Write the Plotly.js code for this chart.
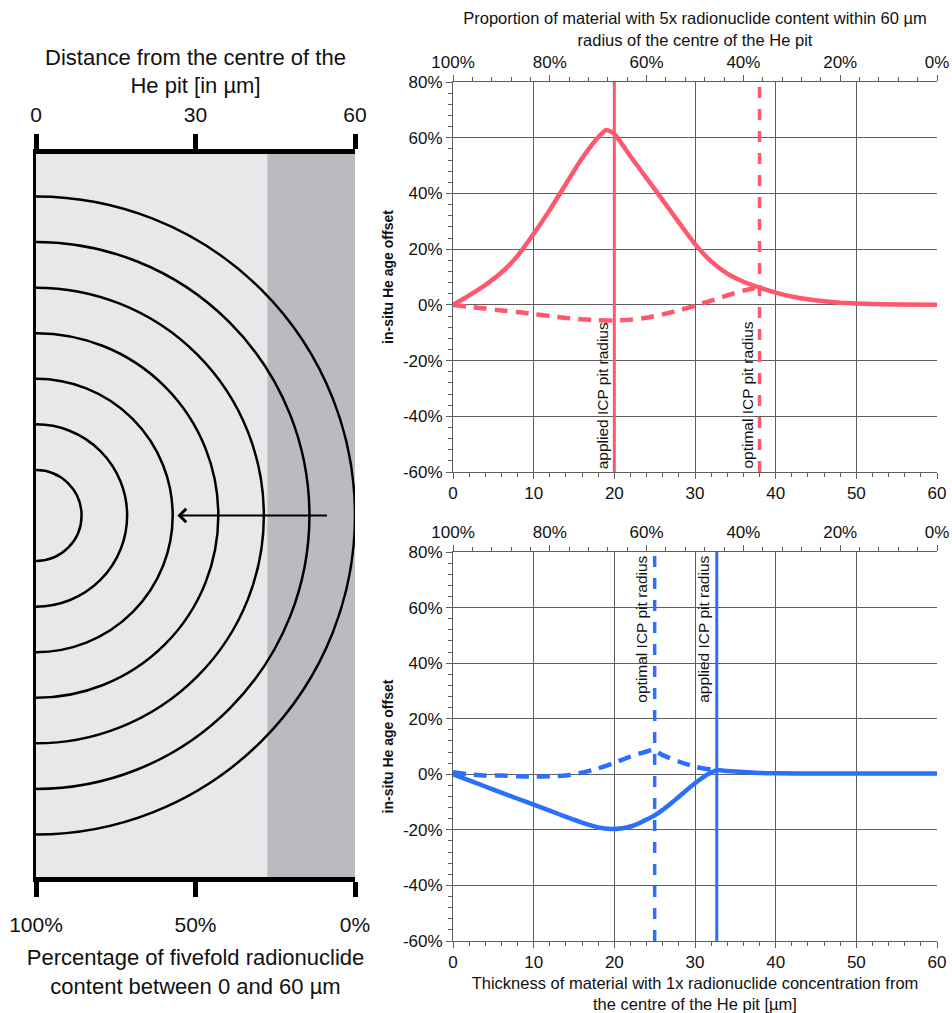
<!DOCTYPE html>
<html>
<head>
<meta charset="utf-8">
<script src="https://cdn.plot.ly/plotly-3.0.1.min.js"></script>
<style>html,body{margin:0;padding:0;background:#fff;}</style>
</head>
<body>
<div id="chart" style="width:952px;height:1013px;"></div>
<script>
// ---------------- data ----------------
// Top chart (5x radionuclide content), pink
const topSolidX = [0,2,4,6,8,10,12,14,16,18,19,20,22,24,26,28,30,32,34,36,38,40,42,44,46,48,50,52,55,60];
const topSolidY = [0,3.4,7.1,11.6,17.6,25.5,34.1,43.4,52.6,60.2,62.8,61.4,53.3,45.5,37.6,29.6,21.8,15.6,11.2,8.3,6.2,4.4,3.0,2.0,1.3,0.8,0.5,0.3,0.15,0.05];
const topDashX = [0,2,4,6,8,10,12,14,16,18,20,22,24,26,28,30,32,34,36,38];
const topDashY = [0,-0.7,-1.3,-2.0,-2.6,-3.3,-4.0,-4.7,-5.2,-5.5,-5.6,-5.3,-4.6,-3.4,-2.0,-0.3,1.5,3.4,5.1,6.4];
const topAppliedRadius = 20;
const topOptimalRadius = 38;

// Bottom chart (1x radionuclide content), blue
const botSolidX = [0,2,4,6,8,10,12,14,16,18,19.5,21,22,23,24,25,26,27,28,29,30,31,32,32.7,34,36,38,40,45,50,55,60];
const botSolidY = [0,-2.2,-4.4,-6.6,-8.8,-10.9,-13.1,-15.3,-17.4,-19.1,-19.7,-19.4,-18.8,-17.7,-16.3,-14.8,-12.8,-10.5,-8.1,-5.6,-3.2,-1.1,0.6,1.5,1.2,0.8,0.5,0.35,0.3,0.3,0.3,0.3];
const botDashX = [0,2,4,6,8,10,12,14,16,18,20,22,24,24.75,26,28,30,32,32.7];
const botDashY = [0.7,0,-0.4,-0.4,-0.7,-0.8,-0.7,-0.4,0.6,2.1,4.1,6.4,8.2,8.8,6.9,4.6,2.7,1.7,1.5];
const botOptimalRadius = 25;
const botAppliedRadius = 32.7;

// axes / ticks
const xRange = [0, 60];
const yRange = [-60, 80];
const yTickVals = [-60,-40,-20,0,20,40,60,80];
const yTickText = ['-60%','-40%','-20%','0%','20%','40%','60%','80%'];
const propRange = [100, 0];

// Left diagram
const ringRadii = [8.57, 17.14, 25.71, 34.29, 42.86, 51.43, 60];
const zoneEdges = [0, 43.5, 60];
const distTickVals = [0, 30, 60];
const distTickText = ['0', '30', '60'];
const pctTickText = ['100%', '50%', '0%'];
const arrowFrom = 55;
const arrowTo = 26.6;

// ---------------- style ----------------
const W = 952, H = 1013;
const FONT = 'Liberation Sans, Arial, Helvetica, sans-serif';
const PINK = '#ff576c';
const BLUE = '#2b6fff';
const GRID = '#5e5e5e';
const TXT = '#111111';
const TICK = 17;
const TITLE = 16.5;

const rightX = [453 / W, 937 / W];
const topY = [1 - 472 / H, 1 - 82 / H];
const botY = [1 - 941 / H, 1 - 552 / H];
const leftX = [36 / W, 355 / W];
const leftY = [1 - 877 / H, 1 - 154 / H];
const leftHalf = ((877 - 154) / 2) / ((355 - 36) / 60);

function xMain(domain, anchor, title) {
  const ax = {
    domain: domain, anchor: anchor, range: xRange, tickmode: 'linear', tick0: 0, dtick: 10,
    showgrid: true, gridcolor: GRID, gridwidth: 1, zeroline: false,
    showline: true, linecolor: GRID, linewidth: 1,
    ticks: 'outside', ticklen: 6, tickcolor: GRID, tickwidth: 1,
    minor: {tickmode: 'linear', dtick: 2, ticks: 'outside', ticklen: 4, tickcolor: GRID, showgrid: false},
    tickfont: {family: FONT, size: TICK, color: TXT}, fixedrange: true
  };
  if (title) ax.title = {text: title, font: {family: FONT, size: TITLE, color: TXT}, standoff: 6};
  return ax;
}
function xProp(over, anchor, title) {
  const ax = {
    overlaying: over, anchor: anchor, side: 'top', range: propRange, tickmode: 'linear', tick0: 0, dtick: 20,
    ticksuffix: '%', showgrid: false, zeroline: false,
    showline: true, linecolor: GRID, linewidth: 1,
    ticks: 'outside', ticklen: 6, tickcolor: GRID, tickwidth: 1,
    minor: {tickmode: 'linear', dtick: 4, ticks: 'outside', ticklen: 4, tickcolor: GRID, showgrid: false},
    tickfont: {family: FONT, size: TICK, color: TXT}, fixedrange: true
  };
  if (title) ax.title = {text: title, font: {family: FONT, size: TITLE, color: TXT}, standoff: 2};
  return ax;
}
function yMain(domain, anchor) {
  return {
    domain: domain, anchor: anchor, range: yRange, tickmode: 'array', tickvals: yTickVals, ticktext: yTickText,
    showgrid: true, gridcolor: GRID, gridwidth: 1, zeroline: false,
    showline: true, linecolor: GRID, linewidth: 1,
    ticks: 'outside', ticklen: 6, tickcolor: GRID, tickwidth: 1,
    minor: {tickmode: 'linear', tick0: 0, dtick: 4, ticks: 'outside', ticklen: 4, tickcolor: GRID, showgrid: false},
    tickfont: {family: FONT, size: TICK, color: TXT},
    title: {text: '<b>in-situ He age offset</b>', font: {family: FONT, size: 14, color: TXT}, standoff: 6},
    fixedrange: true
  };
}

const traces = [
  {x: topSolidX, y: topSolidY, xaxis: 'x', yaxis: 'y', mode: 'lines', line: {color: PINK, width: 4.5, shape: 'spline', smoothing: 0.5}, hoverinfo: 'skip'},
  {x: topDashX, y: topDashY, xaxis: 'x', yaxis: 'y', mode: 'lines', line: {color: PINK, width: 4.5, dash: '13px,8px', shape: 'spline', smoothing: 0.5}, hoverinfo: 'skip'},
  {x: [topAppliedRadius, topAppliedRadius], y: yRange, xaxis: 'x', yaxis: 'y', mode: 'lines', line: {color: PINK, width: 3}, hoverinfo: 'skip'},
  {x: [topOptimalRadius, topOptimalRadius], y: yRange, xaxis: 'x', yaxis: 'y', mode: 'lines', line: {color: PINK, width: 3.5, dash: '11px,11px'}, hoverinfo: 'skip'},
  // carries the top (proportion) axis of the upper chart
  {x: propRange, y: yRange, xaxis: 'x2', yaxis: 'y', mode: 'none', hoverinfo: 'skip'},

  {x: botSolidX, y: botSolidY, xaxis: 'x3', yaxis: 'y2', mode: 'lines', line: {color: BLUE, width: 4.5, shape: 'spline', smoothing: 0.5}, hoverinfo: 'skip'},
  {x: botDashX, y: botDashY, xaxis: 'x3', yaxis: 'y2', mode: 'lines', line: {color: BLUE, width: 4.5, dash: '13px,8px', shape: 'spline', smoothing: 0.5}, hoverinfo: 'skip'},
  {x: [botOptimalRadius, botOptimalRadius], y: yRange, xaxis: 'x3', yaxis: 'y2', mode: 'lines', line: {color: BLUE, width: 3.5, dash: '11px,11px'}, hoverinfo: 'skip'},
  {x: [botAppliedRadius, botAppliedRadius], y: yRange, xaxis: 'x3', yaxis: 'y2', mode: 'lines', line: {color: BLUE, width: 3}, hoverinfo: 'skip'},
  // carries the top (proportion) axis of the lower chart
  {x: propRange, y: yRange, xaxis: 'x4', yaxis: 'y2', mode: 'none', hoverinfo: 'skip'},
  // carries the percentage axis of the diagram
  {x: xRange, y: [0, 0], xaxis: 'x6', yaxis: 'y3', mode: 'none', hoverinfo: 'skip'}
];

// left diagram shapes
const shapes = [];
const zoneColors = ['#e6e8e9', '#bcbabe'];
for (let i = 0; i < zoneEdges.length - 1; i++) {
  shapes.push({type: 'rect', xref: 'x5', yref: 'y3', x0: zoneEdges[i], x1: zoneEdges[i + 1], y0: -leftHalf, y1: leftHalf,
    fillcolor: zoneColors[i], line: {width: 0}, layer: 'below'});
}
ringRadii.forEach(r => {
  shapes.push({type: 'circle', xref: 'x5', yref: 'y3', x0: -r, x1: r, y0: -r, y1: r,
    line: {color: '#000', width: 2.5}, fillcolor: 'rgba(0,0,0,0)', layer: 'above'});
});

const labelFont = {family: FONT, size: 15.5, color: TXT};
const annotations = [
  {xref: 'x', yref: 'y', x: topAppliedRadius, y: yRange[0], text: 'applied ICP pit radius', textangle: -90,
    xanchor: 'right', yanchor: 'bottom', showarrow: false, font: labelFont, xshift: -1, yshift: 1},
  {xref: 'x', yref: 'y', x: topOptimalRadius, y: yRange[0], text: 'optimal ICP pit radius', textangle: -90,
    xanchor: 'right', yanchor: 'bottom', showarrow: false, font: labelFont, xshift: -2, yshift: 1},
  {xref: 'x3', yref: 'y2', x: botOptimalRadius, y: yRange[1], text: 'optimal ICP pit radius', textangle: -90,
    xanchor: 'right', yanchor: 'top', showarrow: false, font: labelFont, xshift: -3, yshift: -2},
  {xref: 'x3', yref: 'y2', x: botAppliedRadius, y: yRange[1], text: 'applied ICP pit radius', textangle: -90,
    xanchor: 'right', yanchor: 'top', showarrow: false, font: labelFont, xshift: -3, yshift: -2},
  {xref: 'x5', yref: 'y3', x: arrowTo, y: 0, ax: arrowFrom, ay: 0, axref: 'x5', ayref: 'y3', text: '',
    showarrow: true, arrowhead: 4, arrowsize: 1.3, arrowwidth: 2, arrowcolor: '#000'}
];

const layout = {
  width: W, height: H,
  margin: {l: 0, r: 0, t: 0, b: 0},
  paper_bgcolor: '#ffffff', plot_bgcolor: 'rgba(0,0,0,0)',
  font: {family: FONT, color: TXT},
  showlegend: false,
  xaxis: xMain(rightX, 'y', null),
  xaxis2: xProp('x', 'y', 'Proportion of material with 5x radionuclide content within 60 µm<br>radius of the centre of the He pit'),
  yaxis: yMain(topY, 'x'),
  xaxis3: xMain(rightX, 'y2', 'Thickness of material with 1x radionuclide concentration from<br>the centre of the He pit [µm]'),
  xaxis4: xProp('x3', 'y2', null),
  yaxis2: yMain(botY, 'x3'),
  xaxis5: {
    domain: leftX, anchor: 'y3', side: 'top', range: xRange, tickmode: 'array', tickvals: distTickVals, ticktext: distTickText,
    showgrid: false, zeroline: false, showline: true, linecolor: '#000', linewidth: 5,
    ticks: 'outside', ticklen: 15, tickwidth: 5, tickcolor: '#000', ticklabelstandoff: 4,
    tickfont: {family: FONT, size: 21, color: TXT},
    title: {text: 'Distance from the centre of the<br>He pit [in µm]', font: {family: FONT, size: 22, color: TXT}, standoff: 4},
    fixedrange: true
  },
  xaxis6: {
    overlaying: 'x5', anchor: 'y3', side: 'bottom', range: xRange, tickmode: 'array', tickvals: distTickVals, ticktext: pctTickText,
    showgrid: false, zeroline: false, showline: true, linecolor: '#000', linewidth: 5,
    ticks: 'outside', ticklen: 15, tickwidth: 5, tickcolor: '#000', ticklabelstandoff: 10,
    tickfont: {family: FONT, size: 21, color: TXT},
    title: {text: 'Percentage of fivefold radionuclide<br>content between 0 and 60 µm', font: {family: FONT, size: 22, color: TXT}, standoff: 16},
    fixedrange: true
  },
  yaxis3: {
    domain: leftY, anchor: 'x5', range: [-leftHalf, leftHalf], showgrid: false, zeroline: false,
    showline: true, linecolor: '#000', linewidth: 3, showticklabels: false, ticks: '', fixedrange: true
  },
  shapes: shapes,
  annotations: annotations
};

Plotly.newPlot('chart', traces, layout, {displayModeBar: false, staticPlot: true});
</script>
</body>
</html>
